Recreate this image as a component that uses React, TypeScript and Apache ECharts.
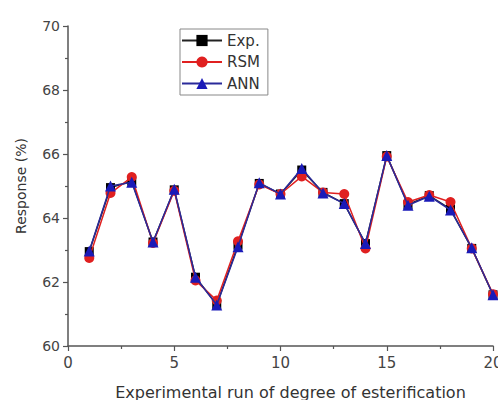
import React, { useEffect, useRef } from "react";
import * as echarts from "echarts";

const runs = [1, 2, 3, 4, 5, 6, 7, 8, 9, 10, 11, 12, 13, 14, 15, 16, 17, 18, 19, 20];
const expValues = [62.95, 64.95, 65.15, 63.25, 64.88, 62.15, 61.3, 63.15, 65.08, 64.75, 65.5, 64.8, 64.45, 63.2, 65.95, 64.42, 64.7, 64.28, 63.05, 61.6];
const rsmValues = [62.75, 64.78, 65.28, 63.22, 64.85, 62.05, 61.42, 63.27, 65.05, 64.75, 65.3, 64.8, 64.75, 63.05, 65.92, 64.5, 64.72, 64.5, 63.05, 61.62];
const annValues = [62.97, 65.0, 65.12, 63.25, 64.9, 62.15, 61.28, 63.1, 65.1, 64.75, 65.55, 64.78, 64.45, 63.2, 65.95, 64.4, 64.68, 64.25, 63.07, 61.6];
const seriesNames = ["Exp.", "RSM", "ANN"];

const font = "'DejaVu Sans', sans-serif";

export default function App() {
  const ref = useRef<HTMLDivElement>(null);
  useEffect(() => {
    if (!ref.current) return;
    const chart = echarts.init(ref.current, null, { renderer: "svg" });
    const mk = (vals: number[]) => runs.map((r, i) => [r, vals[i]]);
    const axisCommon = {
      axisLine: { show: true, lineStyle: { color: "#555", width: 1.5 } },
      axisTick: { show: true, inside: false, length: 5, lineStyle: { color: "#555", width: 1.2 } },
      minorTick: { show: true, splitNumber: 2, length: 3, lineStyle: { color: "#555", width: 1.2 } },
      splitLine: { show: false },
      nameTextStyle: { color: "#333", fontSize: 14, fontFamily: font },
    };
    chart.setOption({
      animation: false,
      backgroundColor: "#fff",
      grid: { left: 68, right: 5, top: 26, bottom: 54, containLabel: false, outerBoundsMode: "none" },
      legend: {
        data: seriesNames,
        orient: "vertical",
        left: 180,
        top: 29,
        itemWidth: 40,
        itemHeight: 14,
        itemGap: 6.5,
        padding: [4, 8, 4, 1],
        borderColor: "#888",
        borderWidth: 1,
        textStyle: { color: "#333", fontSize: 15, fontFamily: font },
      },
      xAxis: {
        type: "value",
        min: 0,
        max: 20,
        interval: 5,
        name: "Experimental run of degree of esterification",
        nameLocation: "middle",
        nameGap: 38,
        ...axisCommon,
        nameTextStyle: { ...axisCommon.nameTextStyle, fontSize: 16, padding: [0, 0, 0, 20] },
        axisLabel: {
          color: "#444",
          fontSize: 15,
          fontFamily: font,
          margin: 9,
          alignMinLabel: "center",
          alignMaxLabel: "center",
        },
      },
      yAxis: {
        type: "value",
        min: 60,
        max: 70,
        interval: 2,
        name: "Response (%)",
        nameLocation: "middle",
        nameGap: 40,
        ...axisCommon,
        axisLabel: { color: "#444", fontSize: 14, fontFamily: font, margin: 8 },
      },
      series: [
        {
          name: "Exp.",
          type: "line",
          data: mk(expValues),
          symbol: "rect",
          symbolSize: 9,
          itemStyle: { color: "#000" },
          lineStyle: { color: "#222", width: 1.5 },
          z: 2,
        },
        {
          name: "RSM",
          type: "line",
          data: mk(rsmValues),
          symbol: "circle",
          symbolSize: 10,
          itemStyle: { color: "#e02020" },
          lineStyle: { color: "#e02020", width: 1.5 },
          z: 3,
        },
        {
          name: "ANN",
          type: "line",
          data: mk(annValues),
          symbol: "triangle",
          symbolSize: 11,
          itemStyle: { color: "#1a1ab8" },
          lineStyle: { color: "#2a2a9a", width: 1.5 },
          z: 4,
        },
      ],
    });
    return () => chart.dispose();
  }, []);
  return <div ref={ref} style={{ width: 498, height: 400, position: "absolute", left: 0, top: 0 }} />;
}
